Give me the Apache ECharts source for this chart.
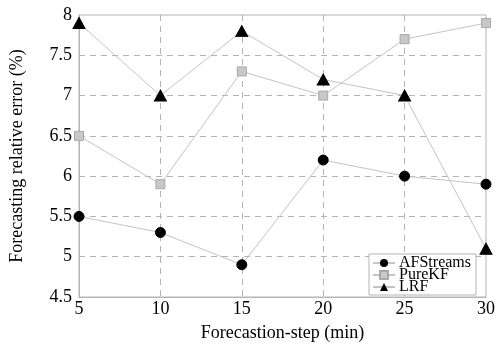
<!DOCTYPE html>
<html>
<head>
<meta charset="utf-8">
<script src="https://cdn.jsdelivr.net/npm/echarts@6/dist/echarts.min.js"></script>
<style>html,body{margin:0;padding:0;background:#fff}#c{width:498px;height:347px}</style>
</head>
<body>
<div id="c"></div>
<script>
const steps = [5, 10, 15, 20, 25, 30];
const afstreams = [5.5, 5.3, 4.9, 6.2, 6.0, 5.9];
const pureKF = [6.5, 5.9, 7.3, 7.0, 7.7, 7.9];
const lrf = [7.9, 7.0, 7.8, 7.2, 7.0, 5.1];
const seriesNames = ['AFStreams', 'PureKF', 'LRF'];

const font = 'Liberation Serif';
const lineColor = '#c4c4c4';
const axisColor = '#b4b4b4';

function pairs(vals) { return steps.map((s, i) => [s, vals[i]]); }

const chart = echarts.init(document.getElementById('c'), null, {renderer: 'canvas'});
chart.setOption({
  animation: false,
  backgroundColor: '#fff',
  grid: {left: 78, right: 11, top: 15, bottom: 47, show: true, borderColor: axisColor, borderWidth: 1},
  xAxis: {
    type: 'value', min: 5, max: 30, interval: 5,
    name: 'Forecastion-step (min)', nameLocation: 'middle', nameGap: 27,
    nameTextStyle: {fontFamily: font, fontSize: 18, color: '#000'},
    axisLine: {show: true, lineStyle: {color: axisColor}},
    axisTick: {show: false},
    axisLabel: {fontFamily: font, fontSize: 18, color: '#000', margin: 3},
    splitLine: {show: true, showMinLine: false, showMaxLine: false, lineStyle: {color: axisColor, type: [6, 5]}}
  },
  yAxis: {
    type: 'value', min: 4.5, max: 8, interval: 0.5,
    name: 'Forecasting relative error (%)', nameLocation: 'middle', nameGap: 53,
    nameTextStyle: {fontFamily: font, fontSize: 18, color: '#000'},
    axisLine: {show: true, lineStyle: {color: axisColor}},
    axisTick: {show: false},
    axisLabel: {fontFamily: font, fontSize: 18, color: '#000', margin: 7},
    splitLine: {show: true, showMinLine: false, showMaxLine: false, lineStyle: {color: axisColor, type: [6, 5]}}
  },
  legend: {
    orient: 'vertical', left: 369, top: 254,
    backgroundColor: '#fff', borderColor: axisColor, borderWidth: 1,
    padding: [1, 5, 0, 3], itemGap: -4, itemWidth: 22, itemHeight: 10,
    textStyle: {fontFamily: font, fontSize: 16, color: '#000', padding: [0, 0, 0, -1]},
    data: seriesNames
  },
  series: [
    {
      name: seriesNames[0], type: 'line', data: pairs(afstreams),
      symbol: 'circle', symbolSize: 10,
      lineStyle: {color: lineColor, width: 1},
      itemStyle: {color: '#000', borderColor: '#000'}
    },
    {
      name: seriesNames[1], type: 'line', data: pairs(pureKF),
      symbol: 'rect', symbolSize: 9,
      lineStyle: {color: lineColor, width: 1},
      itemStyle: {color: '#c8c8c8', borderColor: '#a8a8a8', borderWidth: 1}
    },
    {
      name: seriesNames[2], type: 'line', data: pairs(lrf),
      symbol: 'triangle', symbolSize: [12, 11],
      lineStyle: {color: lineColor, width: 1},
      itemStyle: {color: '#000', borderColor: '#000'}
    }
  ]
});
</script>
</body>
</html>
